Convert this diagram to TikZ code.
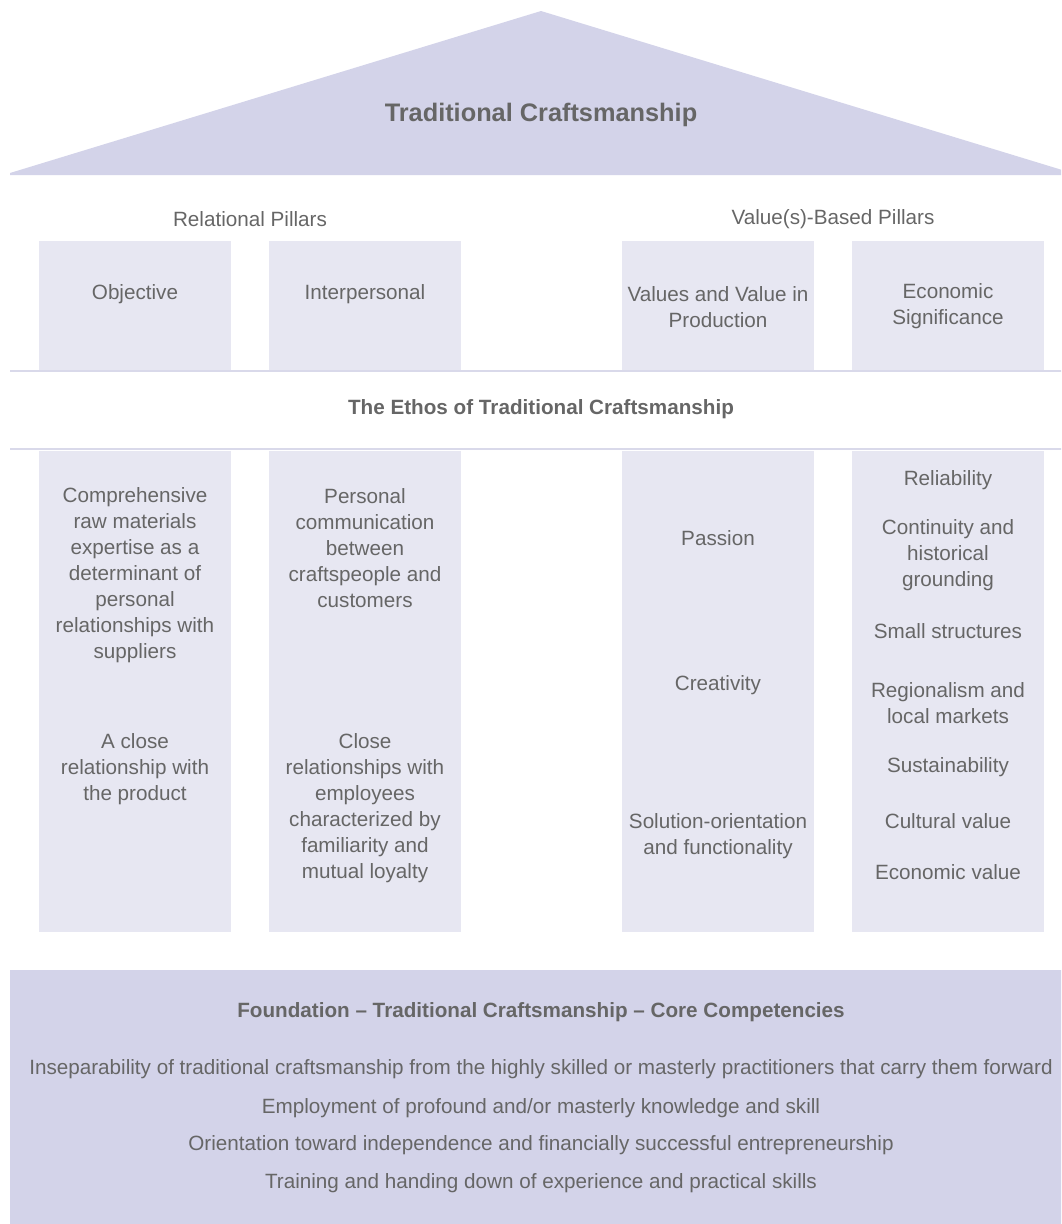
\documentclass[tikz,border=0pt]{standalone}
\usepackage{fontspec}
\setmainfont{Liberation Sans}
\definecolor{roofcol}{HTML}{D3D3E9}
\definecolor{pillarcol}{HTML}{E7E7F2}
\definecolor{rulecol}{HTML}{D9D9EA}
\definecolor{inkgray}{HTML}{666666}
\begin{document}
\begin{tikzpicture}[x=0.75pt,y=-0.75pt,
  body/.style={text=inkgray, font=\fontsize{15.5}{19.5}\selectfont, align=center, inner sep=0pt},
  head/.style={text=inkgray, font=\bfseries\fontsize{15.5}{19.5}\selectfont, align=center, inner sep=0pt},
  title/.style={text=inkgray, font=\bfseries\fontsize{19}{23}\selectfont, align=center, inner sep=0pt},
  rulestyle/.style={draw=rulecol, line width=1.5pt}]
\useasboundingbox (0,0) rectangle (1061,1224);
\clip (0,0) rectangle (1061,1224);

% roof
\fill[roofcol] (10,175) -- (10,173) -- (541,11) -- (1072,173) -- (1072,175) -- cycle;
\node[title] (roof) at (541,115) {Traditional Craftsmanship};

% group labels
\node[body] (relational) at (250,219) {Relational Pillars};
\node[body] (valuebased) at (833,219) {Value(s)-Based Pillars};

% upper pillar segments
\foreach \xl in {39,269,622,852}
  \fill[pillarcol] (\xl,241) rectangle (\xl+192,371);
% lower pillar segments
\foreach \xl in {39,269,622,852}
  \fill[pillarcol] (\xl,451) rectangle (\xl+192,932);

% rules framing the ethos band
\draw[rulestyle] (10,371) -- (1072,371);
\draw[rulestyle] (10,449) -- (1072,449);
\node[head] (ethos) at (541,409) {The Ethos of Traditional Craftsmanship};

% pillar names
\node[body] (objective) at (135,294) {Objective};
\node[body] (interpersonal) at (365,294) {Interpersonal};
\node[body] (valuesprod) at (718,307) {Values and Value in\\Production};
\node[body] (economic) at (948,306) {Economic\\Significance};

% relational pillar contents
\node[body] (rawmat) at (135,575) {Comprehensive\\raw materials\\expertise as a\\determinant of\\personal\\relationships with\\suppliers};
\node[body] (product) at (135,769) {A close\\relationship with\\the product};
\node[body] (communication) at (365,548) {Personal\\communication\\between\\craftspeople and\\customers};
\node[body] (employees) at (365,808) {Close\\relationships with\\employees\\characterized by\\familiarity and\\mutual loyalty};

% value(s)-based pillar contents
\node[body] (passion) at (718,538) {Passion};
\node[body] (creativity) at (718,685) {Creativity};
\node[body] (solution) at (718,836) {Solution-orientation\\and functionality};

\node[body] (reliability) at (948,480) {Reliability};
\node[body] (continuity) at (948,555) {Continuity and\\historical\\grounding};
\node[body] (small) at (948,631) {Small structures};
\node[body] (regional) at (948,703) {Regionalism and\\local markets};
\node[body] (sustain) at (948,767) {Sustainability};
\node[body] (cultural) at (948,821) {Cultural value};
\node[body] (econvalue) at (948,872) {Economic value};

% foundation
\fill[roofcol] (10,970) rectangle (1072,1224);
\node[head] (foundation) at (541,1012) {Foundation – Traditional Craftsmanship – Core Competencies};
\node[body] (f1) at (541,1069) {Inseparability of traditional craftsmanship from the highly skilled or masterly practitioners that carry them forward};
\node[body] (f2) at (541,1108) {Employment of profound and/or masterly knowledge and skill};
\node[body] (f3) at (541,1145) {Orientation toward independence and financially successful entrepreneurship};
\node[body] (f4) at (541,1183) {Training and handing down of experience and practical skills};
\end{tikzpicture}
\end{document}
